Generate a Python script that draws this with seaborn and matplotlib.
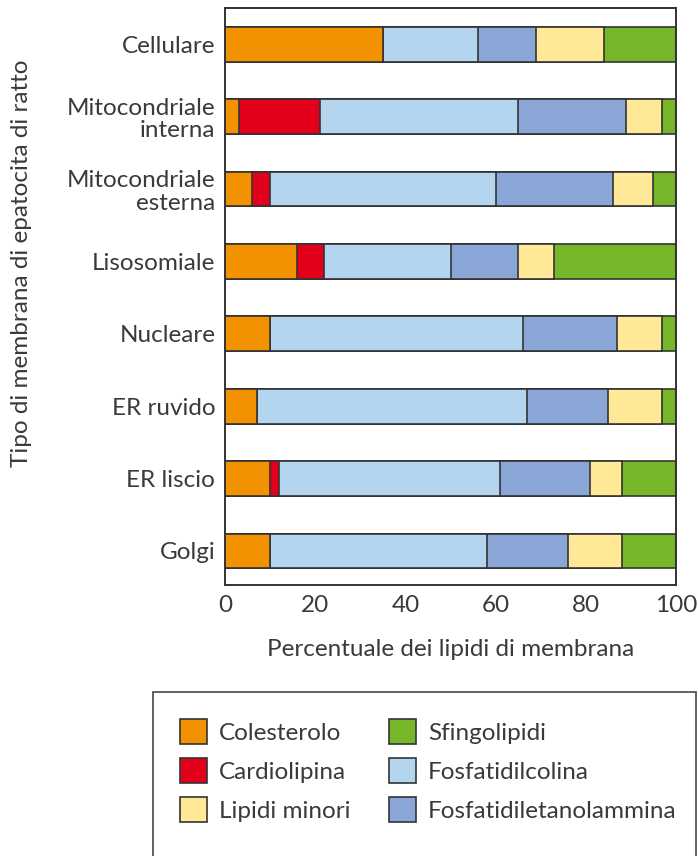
import matplotlib
matplotlib.use("Agg")
import matplotlib.pyplot as plt
from matplotlib.patches import Patch, Rectangle
import numpy as np
import pandas as pd
import seaborn as sns

# Membrane types (top to bottom)
membranes = ["Cellulare", "Mitocondriale\ninterna", "Mitocondriale\nesterna",
             "Lisosomiale", "Nucleare", "ER ruvido", "ER liscio", "Golgi"]

# Percent of membrane lipids, one list per lipid class
colesterolo = [35, 3, 6, 16, 10, 7, 10, 10]
cardiolipina = [0, 18, 4, 6, 0, 0, 2, 0]
fosfatidilcolina = [21, 44, 50, 28, 56, 60, 49, 48]
fosfatidiletanolammina = [13, 24, 26, 15, 21, 18, 20, 18]
lipidi_minori = [15, 8, 9, 8, 10, 12, 7, 12]
sfingolipidi = [16, 3, 5, 27, 3, 3, 12, 12]

x_ticks = [0, 20, 40, 60, 80, 100]

# Stacking order from left to right
lipids = ["Colesterolo", "Cardiolipina", "Fosfatidilcolina",
          "Fosfatidiletanolammina", "Lipidi minori", "Sfingolipidi"]
values = [colesterolo, cardiolipina, fosfatidilcolina,
          fosfatidiletanolammina, lipidi_minori, sfingolipidi]
colors = {
    "Colesterolo": "#F39200",
    "Cardiolipina": "#E3001B",
    "Fosfatidilcolina": "#B4D5F0",
    "Fosfatidiletanolammina": "#8AA6D6",
    "Lipidi minori": "#FFE896",
    "Sfingolipidi": "#76B72A",
}

df = pd.DataFrame(dict(zip(lipids, values)), index=membranes)
cum = df.cumsum(axis=1)

sns.set_theme(style="white")
plt.rcParams["font.family"] = ["Lato", "DejaVu Sans"]
text_color = "#3a3a3a"
edge = "#333333"
fs = 17.5

fig = plt.figure(figsize=(6.98, 8.56), dpi=100)
W, H = 698, 856
ax = fig.add_axes([225 / W, 1 - 585 / H, (676 - 225) / W, (585 - 8) / H])

# Layer cumulative bars from the total down to the first class
for name in reversed(lipids):
    sns.barplot(x=cum[name].values, y=membranes, order=membranes, orient="h",
                color=colors[name], saturation=1, edgecolor=edge,
                linewidth=1.2, width=0.48, ax=ax)

ax.set_xlim(0, 100)
ax.set_ylim(7.47, -0.5)
ax.set_xticks(x_ticks)
ax.set_xticklabels([str(t) for t in x_ticks])
ax.tick_params(axis="x", direction="in", length=6, width=1.2, color=edge,
               labelsize=fs, labelcolor=text_color, pad=7)
ax.tick_params(axis="y", length=0, labelsize=fs, labelcolor=text_color, pad=7)
for lab in ax.get_yticklabels():
    lab.set_linespacing(1.1)

for sp in ax.spines.values():
    sp.set_visible(True)
    sp.set_color(edge)
    sp.set_linewidth(1.4)

ax.set_xlabel("Percentuale dei lipidi di membrana", fontsize=fs, color=text_color)
ax.set_ylabel("Tipo di membrana di epatocita di ratto", fontsize=fs, color=text_color)
ax.xaxis.set_label_coords(0.5, -0.093)
ax.yaxis.set_label_coords(-0.428, 0.558)

# Legend box
fig.patches.append(Rectangle((153 / W, -0.05), (696 - 153) / W, 0.05 + 1 - 692 / H,
                             transform=fig.transFigure, fill=False,
                             edgecolor="#555555", linewidth=1.3))
legend_order = ["Colesterolo", "Cardiolipina", "Lipidi minori",
                "Sfingolipidi", "Fosfatidilcolina", "Fosfatidiletanolammina"]
handles = [Patch(facecolor=colors[n], edgecolor=edge, linewidth=1.2, label=n)
           for n in legend_order]
leg = fig.legend(handles=handles, loc="upper left",
                 bbox_to_anchor=(180 / W, 1 - 719 / H), ncol=2, frameon=False,
                 fontsize=fs, handlelength=1.1, handleheight=1.2,
                 handletextpad=0.5, labelspacing=0.58, columnspacing=1.6,
                 borderpad=0, borderaxespad=0)
for t in leg.get_texts():
    t.set_color(text_color)

fig.savefig("out.png", dpi=100)
